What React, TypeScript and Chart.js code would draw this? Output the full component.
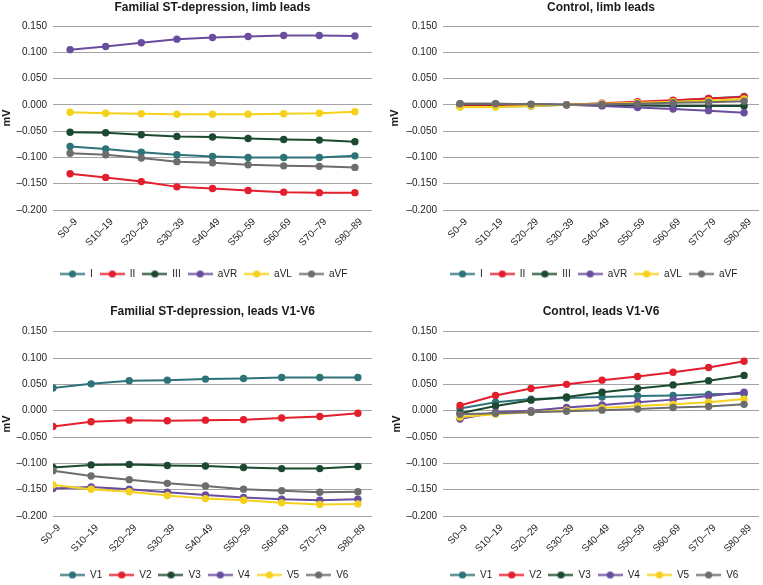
import React, { useEffect, useRef } from 'react';
import { Chart, registerables } from 'chart.js';

Chart.register(...registerables);
Chart.defaults.font.family = "'Liberation Sans', Arial, Helvetica, sans-serif";

// ---------- data ----------
const categories = ['S0–9', 'S10–19', 'S20–29', 'S30–39', 'S40–49', 'S50–59', 'S60–69', 'S70–79', 'S80–89'];
const yMin = -0.2;
const yMax = 0.15;
const yStep = 0.05;

const limbLeads = ['I', 'II', 'III', 'aVR', 'aVL', 'aVF'];
const chestLeads = ['V1', 'V2', 'V3', 'V4', 'V5', 'V6'];
const seriesColors = ['#2e7379', '#e41f2d', '#1c4a30', '#6a4e9e', '#f6d11b', '#6d6d6d'];

// Familial ST-depression, limb leads
const famI = [-0.079, -0.084, -0.09, -0.095, -0.098, -0.1, -0.1, -0.1, -0.097];
const famII = [-0.131, -0.138, -0.146, -0.156, -0.159, -0.163, -0.166, -0.167, -0.167];
const famIII = [-0.052, -0.053, -0.057, -0.06, -0.061, -0.064, -0.066, -0.067, -0.07];
const famAVR = [0.105, 0.111, 0.118, 0.125, 0.128, 0.13, 0.132, 0.132, 0.131];
const famAVL = [-0.014, -0.016, -0.017, -0.018, -0.018, -0.018, -0.017, -0.016, -0.013];
const famAVF = [-0.092, -0.095, -0.101, -0.108, -0.11, -0.114, -0.116, -0.117, -0.119];

// Control, limb leads
const ctlI = [-0.003, -0.003, -0.002, 0.0, 0.002, 0.004, 0.008, 0.012, 0.016];
const ctlII = [-0.002, -0.001, -0.001, 0.0, 0.003, 0.006, 0.009, 0.012, 0.015];
const ctlIII = [0.001, 0.001, 0.001, 0.0, -0.001, -0.001, -0.002, -0.002, -0.002];
const ctlAVR = [0.002, 0.002, 0.001, 0.0, -0.002, -0.005, -0.008, -0.011, -0.015];
const ctlAVL = [-0.004, -0.004, -0.002, 0.0, 0.002, 0.004, 0.006, 0.008, 0.011];
const ctlAVF = [0.002, 0.002, 0.001, 0.0, 0.001, 0.002, 0.004, 0.005, 0.007];

// Familial ST-depression, leads V1-V6
const famV1 = [0.043, 0.051, 0.057, 0.058, 0.06, 0.061, 0.063, 0.063, 0.063];
const famV2 = [-0.03, -0.021, -0.018, -0.019, -0.018, -0.017, -0.014, -0.011, -0.005];
const famV3 = [-0.108, -0.103, -0.102, -0.104, -0.105, -0.108, -0.11, -0.11, -0.106];
const famV4 = [-0.148, -0.145, -0.149, -0.155, -0.16, -0.165, -0.168, -0.17, -0.168];
const famV5 = [-0.141, -0.149, -0.154, -0.161, -0.167, -0.17, -0.175, -0.178, -0.177];
const famV6 = [-0.114, -0.124, -0.131, -0.138, -0.143, -0.149, -0.152, -0.155, -0.154];

// Control, leads V1-V6
const ctlV1 = [0.004, 0.016, 0.022, 0.024, 0.026, 0.028, 0.029, 0.031, 0.032];
const ctlV2 = [0.01, 0.029, 0.042, 0.05, 0.058, 0.065, 0.073, 0.082, 0.094];
const ctlV3 = [-0.005, 0.009, 0.02, 0.026, 0.035, 0.042, 0.049, 0.057, 0.067];
const ctlV4 = [-0.016, -0.003, 0.0, 0.006, 0.011, 0.016, 0.021, 0.028, 0.035];
const ctlV5 = [-0.012, -0.007, -0.003, 0.001, 0.005, 0.009, 0.012, 0.016, 0.022];
const ctlV6 = [-0.007, -0.005, -0.003, -0.001, 0.001, 0.003, 0.006, 0.008, 0.012];

// ---------- panels ----------
type PanelDef = {
  title: string;
  leads: string[];
  series: number[][];
  left: number;
  top: number;
  width: number;
  height: number;
  padLeft: number;
  padRight: number;
  padBottom: number;
  yWidth: number;
  titleTop: number;
  titleBottom: number;
  xHeight: number;
  xMin: number;
  xMax: number;
};

const panels: PanelDef[] = [
  {
    title: 'Familial ST-depression, limb leads',
    leads: limbLeads,
    series: [famI, famII, famIII, famAVR, famAVL, famAVF],
    left: 0, top: 0, width: 380, height: 290,
    padLeft: 0, padRight: 8, padBottom: 1, yWidth: 53,
    titleTop: 0, titleBottom: 11.6, xHeight: 52,
    xMin: -0.48, xMax: 8.48,
  },
  {
    title: 'Control, limb leads',
    leads: limbLeads,
    series: [ctlI, ctlII, ctlIII, ctlAVR, ctlAVL, ctlAVF],
    left: 380, top: 0, width: 383, height: 290,
    padLeft: 8, padRight: 3, padBottom: 1, yWidth: 55,
    titleTop: 0, titleBottom: 11.6, xHeight: 52,
    xMin: -0.48, xMax: 8.42,
  },
  {
    title: 'Familial ST-depression, leads V1-V6',
    leads: chestLeads,
    series: [famV1, famV2, famV3, famV4, famV5, famV6],
    left: 0, top: 290, width: 380, height: 300,
    padLeft: 0, padRight: 8, padBottom: 0, yWidth: 53,
    titleTop: 14.8, titleBottom: 12.5, xHeight: 47,
    xMin: 0, xMax: 8.37,
  },
  {
    title: 'Control, leads V1-V6',
    leads: chestLeads,
    series: [ctlV1, ctlV2, ctlV3, ctlV4, ctlV5, ctlV6],
    left: 380, top: 290, width: 383, height: 300,
    padLeft: 10, padRight: 3, padBottom: 0, yWidth: 53,
    titleTop: 14.8, titleBottom: 12.5, xHeight: 47,
    xMin: -0.48, xMax: 8.42,
  },
];

function makeLegendIcon(color: string): HTMLCanvasElement {
  const c = document.createElement('canvas');
  c.width = 25;
  c.height = 9;
  const ctx = c.getContext('2d')!;
  ctx.strokeStyle = color;
  ctx.lineWidth = 2;
  ctx.beginPath();
  ctx.moveTo(0, 4.5);
  ctx.lineTo(25, 4.5);
  ctx.stroke();
  ctx.fillStyle = color;
  ctx.beginPath();
  ctx.arc(12.5, 4.5, 3.6, 0, Math.PI * 2);
  ctx.fill();
  return c;
}

function fmtY(v: number): string {
  if (Math.abs(v) < 1e-9) return '0.000';
  return v < 0 ? '–' + Math.abs(v).toFixed(3) : v.toFixed(3);
}

function Panel({ def }: { def: PanelDef }) {
  const ref = useRef<HTMLCanvasElement | null>(null);
  useEffect(() => {
    if (!ref.current) return;
    const datasets = def.series.map((vals, i) => ({
      label: def.leads[i],
      data: vals.map((y, x) => ({ x, y })),
      borderColor: seriesColors[i],
      backgroundColor: seriesColors[i],
      pointBackgroundColor: seriesColors[i],
      pointBorderColor: seriesColors[i],
      borderWidth: 2,
      pointRadius: 3.7,
      pointBorderWidth: 0,
      tension: 0,
      order: def.series.length - i,
    }));
    const chart = new Chart(ref.current, {
      type: 'line',
      data: { datasets },
      options: {
        responsive: false,
        animation: false,
        devicePixelRatio: 1,
        layout: { padding: { left: def.padLeft, right: def.padRight, top: 0, bottom: def.padBottom } },
        plugins: {
          title: {
            display: true,
            text: def.title,
            fullSize: false,
            color: '#1a1a1a',
            font: { size: 12, weight: 'bold' },
            padding: { top: def.titleTop, bottom: def.titleBottom },
          },
          legend: {
            display: true,
            position: 'bottom',
            align: 'start',
            fullSize: false,
            labels: {
              usePointStyle: true,
              pointStyleWidth: 25,
              padding: 7,
              color: '#222',
              font: { size: 10 },
              generateLabels: (ch: any) =>
                ch.data.datasets.map((ds: any, i: number) => ({
                  text: ds.label,
                  pointStyle: makeLegendIcon(seriesColors[i]),
                  fillStyle: seriesColors[i],
                  strokeStyle: seriesColors[i],
                  lineWidth: 0,
                  hidden: false,
                  datasetIndex: i,
                  fontColor: '#222',
                })),
            },
          },
          tooltip: { enabled: false },
        },
        scales: {
          x: {
            type: 'linear',
            min: def.xMin,
            max: def.xMax,
            offset: false,
            grid: { display: false },
            border: { display: false },
            ticks: {
              stepSize: 1,
              includeBounds: false,
              autoSkip: false,
              maxRotation: 45,
              minRotation: 45,
              padding: -2,
              labelOffset: 6,
              color: '#222',
              font: { size: 10 },
              callback: (v: any) => {
                const n = Number(v);
                return Number.isInteger(n) && categories[n] ? categories[n] : '';
              },
            },
            afterFit: (scale: any) => {
              scale.height = def.xHeight;
            },
          },
          y: {
            min: yMin,
            max: yMax,
            grid: { color: '#a3a3a3', lineWidth: 1, drawTicks: false },
            border: { display: false },
            ticks: {
              stepSize: yStep,
              padding: 6,
              color: '#222',
              font: { size: 10 },
              callback: (v: any) => fmtY(Number(v)),
            },
            title: {
              display: true,
              text: 'mV',
              color: '#1a1a1a',
              font: { size: 11, weight: 'bold' },
              padding: 0,
            },
            afterFit: (scale: any) => {
              scale.width = def.yWidth;
            },
          },
        },
      } as any,
    });
    return () => chart.destroy();
  }, [def]);
  return (
    <canvas
      ref={ref}
      width={def.width}
      height={def.height}
      style={{ position: 'absolute', left: def.left, top: def.top, width: def.width, height: def.height }}
    />
  );
}

export default function App() {
  return (
    <div
      style={{
        position: 'absolute',
        left: 0,
        top: 0,
        width: 763,
        height: 585,
        overflow: 'hidden',
        background: '#ffffff',
      }}
    >
      {panels.map((p, i) => (
        <Panel key={i} def={p} />
      ))}
    </div>
  );
}
